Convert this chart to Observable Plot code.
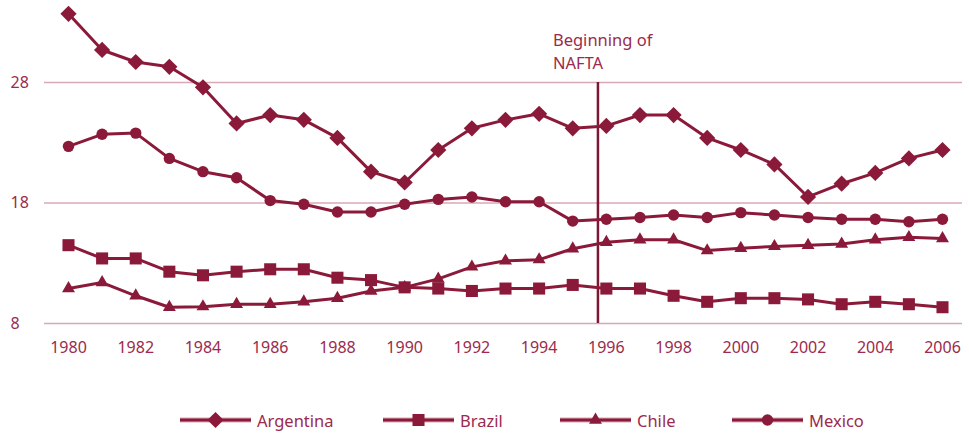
<!DOCTYPE html>
<html>
<head>
<meta charset="utf-8">
<script src="https://cdn.jsdelivr.net/npm/d3@7"></script>
<script src="https://cdn.jsdelivr.net/npm/@observablehq/plot@0.6"></script>
<style>
  html, body { margin: 0; padding: 0; background: #fff; }
  #wrap { position: relative; width: 969px; height: 434px; }
  #legend { position: absolute; left: 0; top: 408px; height: 24px; font-family: "Noto Sans", sans-serif; font-size: 16.5px; color: #9b2a4d; }
  .item { position: absolute; top: 0; display: flex; align-items: center; height: 24px; }
  .item svg { display: block; }
  .item span { margin-left: 6px; }
</style>
</head>
<body>
<div id="wrap"><div id="chart"></div><div id="legend"></div></div>
<script>
const years = d3.range(1980, 2007);
const argentina = [33.7, 30.7, 29.7, 29.3, 27.6, 24.6, 25.3, 24.9, 23.4, 20.6, 19.7, 22.4, 24.2, 24.9, 25.4, 24.2, 24.4, 25.3, 25.3, 23.4, 22.4, 21.2, 18.5, 19.6, 20.5, 21.7, 22.4];
const brazil    = [14.5, 13.4, 13.4, 12.3, 12.0, 12.3, 12.5, 12.5, 11.8, 11.6, 11.0, 10.9, 10.7, 10.9, 10.9, 11.2, 10.9, 10.9, 10.3, 9.8, 10.1, 10.1, 10.0, 9.6, 9.8, 9.6, 9.35];
const chile     = [10.9, 11.4, 10.3, 9.35, 9.4, 9.6, 9.6, 9.8, 10.1, 10.7, 11.0, 11.7, 12.7, 13.2, 13.3, 14.2, 14.75, 14.95, 14.95, 14.05, 14.25, 14.4, 14.5, 14.6, 14.95, 15.15, 15.05];
const mexico    = [22.7, 23.7, 23.8, 21.7, 20.6, 20.1, 18.2, 17.9, 17.25, 17.25, 17.9, 18.3, 18.5, 18.1, 18.1, 16.5, 16.65, 16.8, 17.0, 16.8, 17.2, 17.0, 16.8, 16.65, 16.65, 16.45, 16.65];
const countries = ["Argentina", "Brazil", "Chile", "Mexico"];
const xTicks = d3.range(1980, 2007, 2);
const yTicks = [8, 18, 28];
const naftaYear = 1995.75;
const naftaLabel = "Beginning of\nNAFTA";

const seriesValues = {Argentina: argentina, Brazil: brazil, Chile: chile, Mexico: mexico};
const symbolOf = {Argentina: "diamond2", Brazil: "square", Chile: "triangle", Mexico: "circle"};
const rOf = {Argentina: 7.3, Brazil: 6.8, Chile: 4.8, Mexico: 5.7};
const data = countries.flatMap(c => years.map((y, i) => ({country: c, year: y, value: seriesValues[c][i]})));

const MAROON = "#8b1a3a";
const GRID = "#d8a8b6";
const TEXT = "#9b2a4d";

const marks = [
  Plot.ruleY(yTicks, {stroke: GRID, strokeWidth: 1.5, insetLeft: -24, insetRight: -20}),
  Plot.axisX({ticks: xTicks, tickFormat: d => String(d), tickSize: 0, tickPadding: 18, label: null, fontSize: 16}),
  Plot.axisY({ticks: yTicks, tickSize: 0, tickPadding: 58, textAnchor: "start", label: null, fontSize: 16}),
  Plot.ruleX([naftaYear], {y1: 8, y2: 28, stroke: "#7d1733", strokeWidth: 2.5}),
  Plot.text([naftaLabel], {x: naftaYear, y: 28, text: d => d, textAnchor: "start", lineAnchor: "top", dx: -45, dy: -52, lineHeight: 1.36, fill: TEXT, fontSize: 16.5}),
  Plot.line(data, {x: "year", y: "value", z: "country", stroke: MAROON, strokeWidth: 3})
];
for (const c of countries) {
  marks.push(Plot.dot(data.filter(d => d.country === c), {x: "year", y: "value", symbol: () => symbolOf[c], r: rOf[c], fill: MAROON, stroke: "none"}));
}

const chart = Plot.plot({
  width: 969,
  height: 370,
  marginLeft: 68,
  marginRight: 27,
  marginTop: 82,
  marginBottom: 47,
  x: {domain: [1980, 2006]},
  y: {domain: [8, 28]},
  symbol: {type: "identity"},
  style: {fontFamily: "Noto Sans, sans-serif", fontSize: "16px", color: TEXT, background: "white", overflow: "visible"},
  marks
});
document.getElementById("chart").appendChild(chart);

// legend
const legendPos = {Argentina: 180, Brazil: 383, Chile: 560, Mexico: 732};
const legend = d3.select("#legend");
for (const c of countries) {
  const item = legend.append("div").attr("class", "item").style("left", legendPos[c] + "px");
  const svg = item.append("svg").attr("width", 71).attr("height", 24);
  svg.append("line").attr("x1", 0).attr("x2", 71).attr("y1", 12).attr("y2", 12).attr("stroke", GRID).attr("stroke-width", 5);
  svg.append("line").attr("x1", 0).attr("x2", 71).attr("y1", 12).attr("y2", 12).attr("stroke", MAROON).attr("stroke-width", 3);
  const symMap = {diamond2: d3.symbolDiamond2, square: d3.symbolSquare, triangle: d3.symbolTriangle, circle: d3.symbolCircle};
  const r = rOf[c];
  svg.append("path").attr("transform", "translate(35.5,12)")
    .attr("d", d3.symbol(symMap[symbolOf[c]], Math.PI * r * r)())
    .attr("fill", MAROON);
  item.append("span").text(c);
}
</script>
</body>
</html>
